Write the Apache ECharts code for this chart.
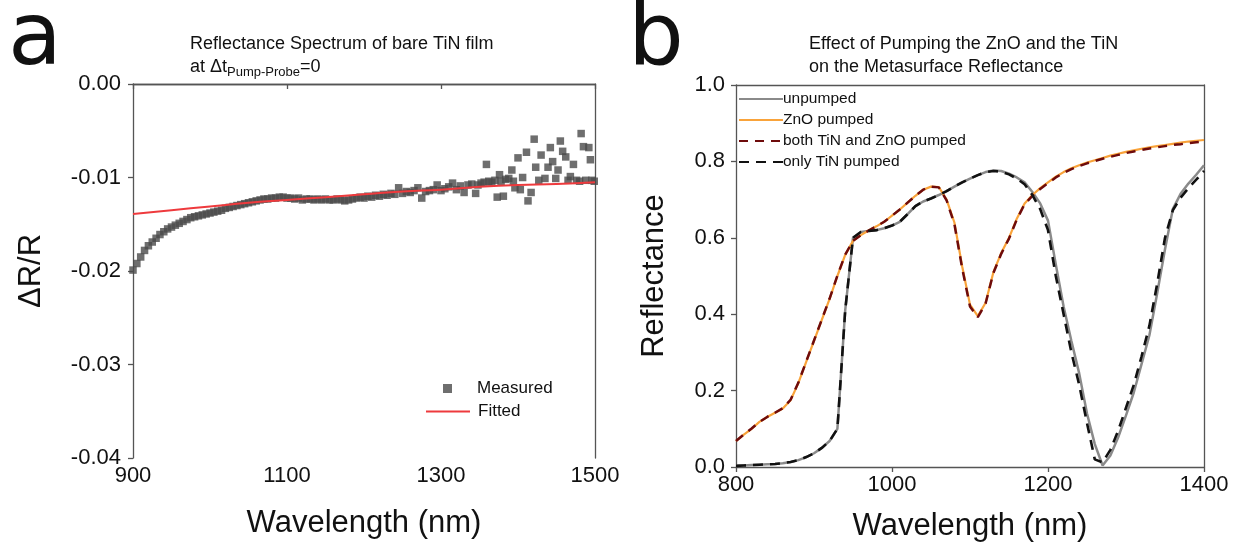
<!DOCTYPE html>
<html>
<head>
<meta charset="utf-8">
<script src="https://cdn.jsdelivr.net/npm/echarts@6/dist/echarts.min.js"></script>
<style>
  html, body { margin: 0; padding: 0; background: #fff; }
  #chart { width: 1249px; height: 548px; }
</style>
</head>
<body>
<div id="chart"></div>
<script>
// panel a: measured dR/R of bare TiN film
var measuredWl = [
  900, 905, 910, 915, 920, 925, 930, 935, 940, 945, 950, 955, 960, 965, 970, 975, 980, 985, 990, 995,
  1000, 1005, 1010, 1015, 1020, 1025, 1030, 1035, 1040, 1045, 1050, 1055, 1060, 1065, 1070, 1075, 1080, 1085, 1090, 1095,
  1100, 1105, 1110, 1115, 1120, 1125, 1130, 1135, 1140, 1145, 1150, 1155, 1160, 1165, 1170, 1175, 1180, 1185, 1190, 1195,
  1200, 1205, 1210, 1215, 1220, 1225, 1230, 1235, 1240, 1245, 1250, 1255, 1260, 1265, 1270, 1275, 1280, 1285, 1290, 1295,
  1300, 1305, 1310, 1315, 1320, 1325, 1330, 1335, 1340,
  1345, 1348, 1352, 1356, 1359, 1362, 1366, 1370, 1373, 1376, 1378, 1381, 1384, 1388, 1392, 1394, 1396, 1400,
  1403, 1406, 1411, 1413, 1417, 1421, 1423, 1427, 1430, 1435, 1439, 1442, 1445, 1449, 1452, 1455, 1458, 1462,
  1465, 1468, 1472, 1476, 1480, 1482, 1485, 1488, 1492, 1494, 1496, 1499
];
var measuredDr = [
  -0.0199, -0.0192, -0.0185, -0.0178, -0.0173, -0.0169, -0.0165, -0.0161, -0.0158, -0.0155, -0.0153, -0.0151, -0.0149, -0.0147, -0.0145, -0.0143, -0.0142, -0.0141, -0.0140, -0.0139,
  -0.0138, -0.0137, -0.0136, -0.0135, -0.0133, -0.0132, -0.0131, -0.0130, -0.0129, -0.0128, -0.0127, -0.0126, -0.0125, -0.0124, -0.0123, -0.0123, -0.0122, -0.0122, -0.0121, -0.0121,
  -0.0122, -0.0122, -0.0123, -0.0122, -0.0124, -0.0123, -0.0123, -0.0124, -0.0123, -0.0124, -0.0123, -0.0124, -0.0124, -0.0123, -0.0124, -0.0125, -0.0124, -0.0123, -0.0122, -0.0121,
  -0.0122, -0.0120, -0.0121, -0.0119, -0.0120, -0.0118, -0.0119, -0.0117, -0.0118, -0.0111, -0.0117, -0.0115, -0.0116, -0.0114, -0.0111, -0.0122, -0.0115, -0.0114, -0.0113, -0.0108,
  -0.0114, -0.0112, -0.0110, -0.0106, -0.0113, -0.0109, -0.0116, -0.0108, -0.0107,
  -0.0117, -0.0108, -0.0106, -0.0105, -0.0086, -0.0104, -0.0105, -0.0103, -0.0121, -0.0097, -0.0104, -0.0120, -0.0102, -0.0101, -0.0092, -0.0104, -0.0111, -0.0079,
  -0.0113, -0.0100, -0.0073, -0.0125, -0.0116, -0.0059, -0.0089, -0.0103, -0.0076, -0.0101, -0.0089, -0.0068, -0.0083, -0.0101, -0.0092, -0.0061, -0.0072, -0.0078,
  -0.0103, -0.0099, -0.0086, -0.0103, -0.0104, -0.0053, -0.0067, -0.0103, -0.0068, -0.0081, -0.0103, -0.0104
];
var fitWl = [900, 950, 1000, 1050, 1100, 1150, 1200, 1250, 1300, 1350, 1400, 1450, 1500];
var fitDr = [-0.0139, -0.0135, -0.0131, -0.0127, -0.0124, -0.0121, -0.0118, -0.0115, -0.0113, -0.0110, -0.0108, -0.0107, -0.0105];

// panel b: metasurface reflectance
var wlB = [
  800, 810, 820, 830, 840, 850, 860, 870, 880, 890, 900, 910, 920, 930, 940, 950, 960, 970, 980, 990,
  1000, 1010, 1020, 1030, 1040, 1050, 1060, 1070, 1080, 1090, 1100, 1110, 1120, 1130, 1140, 1150, 1160, 1170, 1180, 1190,
  1200, 1210, 1220, 1230, 1240, 1250, 1260, 1270, 1280, 1290, 1300, 1310, 1320, 1330, 1340, 1350, 1360, 1370, 1380, 1390, 1400
];
var unpumped = [
  0.003, 0.004, 0.005, 0.006, 0.007, 0.008, 0.010, 0.013, 0.018, 0.026, 0.036, 0.050, 0.068, 0.100, 0.410, 0.600, 0.615, 0.618, 0.620, 0.625,
  0.632, 0.642, 0.662, 0.683, 0.695, 0.703, 0.712, 0.722, 0.734, 0.745, 0.755, 0.764, 0.772, 0.776, 0.775, 0.768, 0.758, 0.745, 0.720, 0.690,
  0.645, 0.530, 0.420, 0.330, 0.245, 0.140, 0.060, 0.004, 0.030, 0.078, 0.135, 0.195, 0.270, 0.345, 0.455, 0.570, 0.675, 0.715, 0.742, 0.765, 0.790
];
var znoPumped = [
  0.068, 0.085, 0.100, 0.118, 0.131, 0.142, 0.153, 0.175, 0.220, 0.275, 0.330, 0.385, 0.440, 0.500, 0.555, 0.592, 0.607, 0.619, 0.630, 0.642,
  0.658, 0.674, 0.692, 0.710, 0.726, 0.734, 0.733, 0.700, 0.640, 0.525, 0.425, 0.395, 0.430, 0.510, 0.560, 0.600, 0.650, 0.690, 0.712, 0.730,
  0.745, 0.760, 0.772, 0.782, 0.790, 0.797, 0.803, 0.809, 0.815, 0.820, 0.825, 0.829, 0.833, 0.837, 0.840, 0.843, 0.846, 0.849, 0.852, 0.854, 0.856
];
var bothPumped = [
  0.068, 0.085, 0.101, 0.118, 0.131, 0.142, 0.154, 0.176, 0.221, 0.276, 0.331, 0.386, 0.441, 0.501, 0.556, 0.592, 0.607, 0.619, 0.630, 0.642,
  0.658, 0.674, 0.692, 0.710, 0.726, 0.734, 0.732, 0.698, 0.636, 0.520, 0.420, 0.392, 0.428, 0.508, 0.558, 0.598, 0.648, 0.688, 0.710, 0.728,
  0.743, 0.758, 0.770, 0.780, 0.788, 0.795, 0.801, 0.807, 0.812, 0.817, 0.822, 0.826, 0.830, 0.834, 0.837, 0.840, 0.843, 0.845, 0.848, 0.850, 0.852
];
var tinPumped = [
  0.003, 0.004, 0.005, 0.006, 0.007, 0.008, 0.010, 0.013, 0.018, 0.026, 0.036, 0.050, 0.068, 0.100, 0.410, 0.600, 0.615, 0.618, 0.620, 0.625,
  0.632, 0.642, 0.662, 0.683, 0.695, 0.703, 0.712, 0.722, 0.734, 0.745, 0.755, 0.764, 0.772, 0.775, 0.773, 0.766, 0.755, 0.740, 0.712, 0.675,
  0.620, 0.500, 0.400, 0.300, 0.215, 0.115, 0.020, 0.012, 0.045, 0.095, 0.155, 0.215, 0.290, 0.370, 0.480, 0.600, 0.672, 0.705, 0.730, 0.752, 0.775
];

function zip(xs, ys) {
  return xs.map(function (x, i) { return [x, ys[i]]; });
}

var font = "'Liberation Sans', Arial, sans-serif";
var axisColor = "#555";
var axisLineStyle = { color: axisColor, width: 1.3 };

function xAxisCfg(grid, min, max, interval, gap) {
  return {
    type: "value", gridIndex: grid, min: min, max: max, interval: interval,
    name: "Wavelength (nm)", nameLocation: "middle", nameGap: gap,
    nameTextStyle: { fontSize: 31, color: "#111", fontFamily: font },
    axisLine: { lineStyle: axisLineStyle },
    axisTick: { inside: false, length: 5, lineStyle: axisLineStyle },
    axisLabel: { fontSize: 22, color: "#111", fontFamily: font, margin: 7, formatter: function (v) { return String(v); } },
    splitLine: { show: false }
  };
}

// plain lines for the top and right edges of each frame
function frameAxis(grid, pos, min, max) {
  return {
    type: "value", gridIndex: grid, position: pos, min: min, max: max,
    axisLine: { show: true, onZero: false, lineStyle: axisLineStyle },
    axisTick: { show: false }, axisLabel: { show: false }, splitLine: { show: false }
  };
}

var legendText = { color: "#111", fontFamily: font };

var chart = echarts.init(document.getElementById("chart"));
chart.setOption({
  animation: false,
  title: [
    {
      left: 185, top: 28,
      text: "{m|Reflectance Spectrum of bare TiN film}\n{m|at Δt}{s|Pump-Probe}{m|=0}",
      textStyle: {
        fontWeight: "normal",
        rich: {
          m: { fontSize: 18, lineHeight: 23, color: "#111", fontFamily: font, fontWeight: "normal" },
          s: { fontSize: 13, lineHeight: 13, color: "#111", fontFamily: font, fontWeight: "normal", verticalAlign: "bottom" }
        }
      }
    },
    {
      left: 804, top: 28,
      text: "Effect of Pumping the ZnO and the TiN\non the Metasurface Reflectance",
      textStyle: { fontSize: 18, lineHeight: 23, color: "#111", fontWeight: "normal", fontFamily: font }
    }
  ],
  graphic: [
    { type: "text", left: 8, top: -3, style: { text: "a", fontSize: 88, fill: "#111", fontFamily: "'DejaVu Sans', sans-serif" } },
    { type: "text", left: 628, top: -3, style: { text: "b", fontSize: 88, fill: "#111", fontFamily: "'DejaVu Sans', sans-serif" } }
  ],
  grid: [
    { left: 133, top: 84, width: 462, height: 374 },
    { left: 736, top: 85, width: 468, height: 382 }
  ],
  legend: [
    {
      left: 438, top: 375, itemWidth: 9, itemHeight: 9,
      textStyle: Object.assign({ fontSize: 17, padding: [0, 0, 0, 20] }, legendText),
      data: [{ name: "Measured", icon: "rect" }]
    },
    {
      left: 420, top: 398, itemWidth: 44, itemHeight: 9,
      itemStyle: { opacity: 0 },
      textStyle: Object.assign({ fontSize: 17, padding: [0, 0, 0, 3] }, legendText),
      data: ["Fitted"]
    },
    {
      left: 733, top: 86, orient: "vertical", itemWidth: 44, itemHeight: 10, itemGap: 5,
      itemStyle: { opacity: 0 },
      textStyle: Object.assign({ fontSize: 15.5, padding: [0, 0, 0, -5] }, legendText),
      data: ["unpumped", "ZnO pumped", "both TiN and ZnO pumped", "only TiN pumped"]
    }
  ],
  xAxis: [
    xAxisCfg(0, 900, 1500, 200, 50),
    xAxisCfg(1, 800, 1400, 200, 44),
    frameAxis(0, "top", 900, 1500),
    frameAxis(1, "top", 800, 1400)
  ],
  yAxis: [
    {
      type: "value", gridIndex: 0, min: -0.04, max: 0, interval: 0.01,
      name: "ΔR/R", nameLocation: "middle", nameGap: 86,
      nameTextStyle: { fontSize: 31, color: "#111", fontFamily: font },
      axisLine: { show: true, lineStyle: axisLineStyle },
      axisTick: { show: true, length: 5, lineStyle: axisLineStyle },
      axisLabel: { fontSize: 22, color: "#111", fontFamily: font, margin: 12, formatter: function (v) { return v.toFixed(2); } },
      splitLine: { show: false }
    },
    {
      type: "value", gridIndex: 1, min: 0, max: 1, interval: 0.2,
      name: "Reflectance", nameLocation: "middle", nameGap: 66,
      nameTextStyle: { fontSize: 31, color: "#111", fontFamily: font },
      axisLine: { show: true, lineStyle: axisLineStyle },
      axisTick: { show: true, length: 5, lineStyle: axisLineStyle },
      axisLabel: { fontSize: 22, color: "#111", fontFamily: font, margin: 11, formatter: function (v) { return v.toFixed(1); } },
      splitLine: { show: false }
    },
    frameAxis(0, "right", -0.04, 0),
    frameAxis(1, "right", 0, 1)
  ],
  series: [
    {
      name: "Measured", type: "scatter", xAxisIndex: 0, yAxisIndex: 0,
      symbol: "rect", symbolSize: 7.5,
      itemStyle: { color: "#4a4a4a" },
      data: zip(measuredWl, measuredDr)
    },
    {
      name: "Fitted", type: "line", xAxisIndex: 0, yAxisIndex: 0,
      smooth: true, symbol: "none",
      lineStyle: { color: "#ee3a3d", width: 2 },
      itemStyle: { color: "#ee3a3d" },
      data: zip(fitWl, fitDr)
    },
    {
      name: "unpumped", type: "line", xAxisIndex: 1, yAxisIndex: 1, symbol: "none",
      lineStyle: { color: "#8a8a8a", width: 2.5 }, itemStyle: { color: "#8a8a8a" },
      data: zip(wlB, unpumped)
    },
    {
      name: "ZnO pumped", type: "line", xAxisIndex: 1, yAxisIndex: 1, symbol: "none",
      lineStyle: { color: "#f9a33a", width: 2.2 }, itemStyle: { color: "#f9a33a" },
      data: zip(wlB, znoPumped)
    },
    {
      name: "both TiN and ZnO pumped", type: "line", xAxisIndex: 1, yAxisIndex: 1, symbol: "none",
      lineStyle: { color: "#6e0b0b", width: 2.5, type: [9, 7] }, itemStyle: { color: "#6e0b0b" },
      data: zip(wlB, bothPumped)
    },
    {
      name: "only TiN pumped", type: "line", xAxisIndex: 1, yAxisIndex: 1, symbol: "none",
      lineStyle: { color: "#111", width: 2.6, type: [10, 7] }, itemStyle: { color: "#111" },
      data: zip(wlB, tinPumped)
    }
  ]
});
</script>
</body>
</html>
